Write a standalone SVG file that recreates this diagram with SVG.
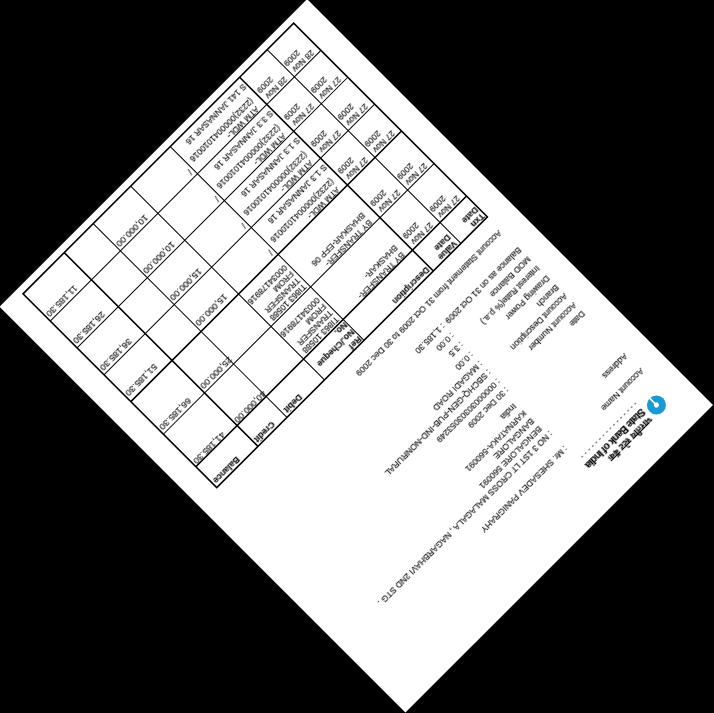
<svg xmlns="http://www.w3.org/2000/svg" width="714" height="713" viewBox="0 0 714 713">
<defs><filter id="soft" x="-10%" y="-30%" width="120%" height="160%"><feGaussianBlur stdDeviation="0.3"/></filter></defs>
<style>
text{font-family:"Liberation Sans",Arial,"Noto Sans",sans-serif;font-size:8.6px;fill:#111;stroke:#111;stroke-width:.15;filter:url(#soft)}
.b{font-weight:bold;font-size:8.8px}
.s{font-size:8.5px}
.a{font-size:9.2px;text-anchor:end}
.e{text-anchor:end}
.n{stroke:#000;stroke-width:1;fill:none}
.m{stroke:#000;stroke-width:1.6;fill:none}
</style>
<rect width="714" height="713" fill="#000"/>
<g transform="translate(713 405) rotate(135)">
<rect width="435" height="574" fill="#fff"/>
<g id="logo">
<circle cx="40" cy="40" r="9.5" fill="#1b9ad1"/>
<circle cx="40" cy="40" r="2.6" fill="#fff"/>
<line x1="40" y1="40" x2="40" y2="50" stroke="#fff" stroke-width="1.6"/>
<text x="53" y="38" style="font-size:9px;font-weight:bold;font-family:'Noto Sans','Noto Sans CJK SC',sans-serif">भारतीय स्टेट बैंक</text>
<text x="53" y="49" style="font-size:10px;font-weight:bold;fill:#000" textLength="80">State Bank of India</text>
<line x1="53" y1="56" x2="133" y2="56" stroke="#888" stroke-width="1.4" stroke-dasharray="2 3"/>
</g>
<g id="info">
<text x="25" y="78">Account Name</text><text x="134" y="77">: Mr. SHESADEV PANIGRAHY</text>
<text x="26" y="100">Address</text><text x="134" y="98">: NO 3 1ST LT CROSS MALAGALA , NAGARBHAVI 2ND STG .</text>
<text x="138" y="109">BENGALORE 560091</text>
<text x="138" y="120">BANGALORE</text>
<text x="138" y="131">KARNATAKA-560091</text>
<text x="140" y="143">India</text>
<text x="26" y="160">Date</text><text x="134" y="160">: 30 Dec 2009</text>
<text x="26" y="172">Account Number</text><text x="134" y="172">: 00000030303053249</text>
<text x="26" y="185">Account Description</text><text x="134" y="185">: SBCHQ-GEN-PUB-IND-NONRURAL</text>
<text x="26" y="197">Branch</text><text x="134" y="197">: MAGADI ROAD</text>
<text x="26" y="210">Drawing Power</text><text x="134" y="210">: 0.00</text>
<text x="26" y="224">Interest Rate(% p.a.)</text><text x="134" y="224">: 3.5</text>
<text x="26" y="237">MOD Balance</text><text x="134" y="237">: 0.00</text>
<text x="26" y="250">Balance as on 31 Oct 2009</text><text x="134" y="250">: 1,185.30</text>
<text x="28" y="276">Account Statement from 31 Oct 2009 to 30 Dec 2009</text>
</g>
<g id="table">
<g>
<path class="n" d="M26.5 368H409M26.5 452H409M26.5 490H409M26.5 528H409M64 292.5V566.5M201 292.5V566.5M257 292.5V566.5M310 292.5V566.5"/>
<path class="m" d="M26.5 292.5H409.3V566.5H26.5ZM26.5 322H409.3M26.5 414H409.3M103 292.5V566.5M351 292.5V566.5"/>
</g>
<g id="header">
<text class="b" x="28" y="300">Txn</text><text class="b" x="28" y="309">Date</text>
<text class="b" x="67" y="300">Value</text><text class="b" x="67" y="309">Date</text>
<text class="b" x="105" y="301">Description</text>
<text class="b" x="202" y="300">Ref</text><text class="b" x="202" y="310">No./Cheque</text><text class="b" x="202" y="320">No.</text>
<text class="b e" x="307" y="301">Debit</text><text class="b e" x="349" y="301">Credit</text><text class="b e" x="407" y="301">Balance</text>
</g>
<g id="row1">
<text class="s" x="33" y="330">27 Nov</text><text class="s" x="43" y="340">2009</text>
<text class="s" x="71" y="330">27 Nov</text><text class="s" x="81" y="340">2009</text>
<text class="s" x="112" y="329">BY TRANSFER-</text><text class="s" x="112" y="339">BHASKAR-</text>
<text class="s" x="204" y="330">TI863 10588</text><text class="s" x="204" y="339">TRANSFER</text><text class="s" x="204" y="348">FROM</text><text class="s" x="204" y="357">00034178916</text>
<text class="a" x="349" y="329">40,000.00</text><text class="a" x="407" y="329">41,185.30</text>
</g>
<g id="row2">
<text class="s" x="33" y="376">27 Nov</text><text class="s" x="43" y="386">2009</text>
<text class="s" x="71" y="376">27 Nov</text><text class="s" x="81" y="386">2009</text>
<text class="s" x="112" y="375">BY TRANSFER-</text><text class="s" x="112" y="385">BHASKAR-EFP 06</text>
<text class="s" x="204" y="376">TI863 10588</text><text class="s" x="204" y="385">TRANSFER</text><text class="s" x="204" y="394">FROM</text><text class="s" x="204" y="403">00034178916</text>
<text class="a" x="349" y="377">25,000.00</text><text class="a" x="407" y="377">66,185.30</text>
</g>
<g id="row3">
<text class="s" x="33" y="422">27 Nov</text><text class="s" x="43" y="432">2009</text>
<text class="s" x="71" y="422">27 Nov</text><text class="s" x="81" y="432">2009</text>
<text class="s" x="112" y="421">ATM WDL-</text><text class="s" x="110" y="431">(2232)0000041010016</text><text class="s" x="105" y="446">S 1.3 JANNASAR 16</text>
<text class="s" x="204" y="424">/</text>
<text class="a" x="308" y="425">15,000.00</text><text class="a" x="407" y="425">51,185.30</text>
</g>
<g id="row4">
<text class="s" x="33" y="460">27 Nov</text><text class="s" x="43" y="470">2009</text>
<text class="s" x="71" y="460">27 Nov</text><text class="s" x="81" y="470">2009</text>
<text class="s" x="112" y="459">ATM WDL-</text><text class="s" x="110" y="469">(2232)0000041010016</text><text class="s" x="105" y="484">S 1.3 JANNASAR 16</text>
<text class="s" x="204" y="462">/</text>
<text class="a" x="308" y="461">15,000.00</text><text class="a" x="407" y="461">36,185.30</text>
</g>
<g id="row5">
<text class="s" x="33" y="498">27 Nov</text><text class="s" x="43" y="508">2009</text>
<text class="s" x="71" y="498">27 Nov</text><text class="s" x="81" y="508">2009</text>
<text class="s" x="112" y="497">ATM WDL-</text><text class="s" x="110" y="507">(2232)0000041010016</text><text class="s" x="105" y="522">S 3.3 JANNASAR 16</text>
<text class="s" x="204" y="500">/</text>
<text class="a" x="308" y="499">10,000.00</text><text class="a" x="407" y="499">26,185.30</text>
</g>
<g id="row6">
<text class="s" x="33" y="536">28 Nov</text><text class="s" x="43" y="546">2009</text>
<text class="s" x="71" y="536">28 Nov</text><text class="s" x="81" y="546">2009</text>
<text class="s" x="112" y="535">ATM WDL-</text><text class="s" x="110" y="545">(2232)0000041010016</text><text class="s" x="105" y="560">S 141 JANNASAR 16</text>
<text class="s" x="204" y="538">/</text>
<text class="a" x="308" y="537">10,000.00</text><text class="a" x="407" y="537">11,185.30</text>
</g>
</g>
</g>
</svg>
